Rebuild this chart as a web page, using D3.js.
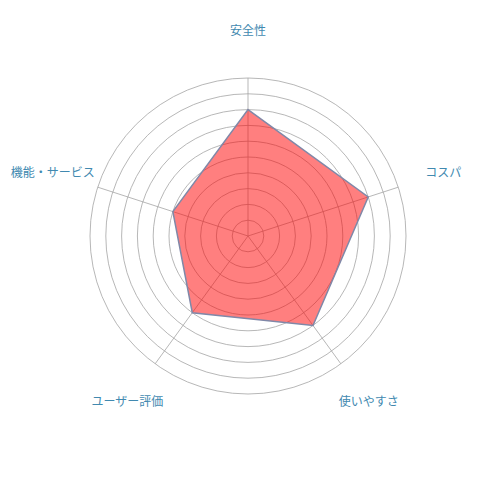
<!DOCTYPE html>
<html>
<head>
<meta charset="utf-8">
<script src="https://cdn.jsdelivr.net/npm/d3@7"></script>
<style>
  body { margin: 0; background: #fff; }
  svg text { font-family: "Noto Sans CJK JP", sans-serif; }
</style>
</head>
<body>
<div id="chart"></div>
<script>
// axes, clockwise from the top
var categories = ["安全性", "コスパ", "使いやすさ", "ユーザー評価", "機能・サービス"];
var scores = [8, 8, 7, 6, 5];
var rings = [1, 2, 3, 4, 5, 6, 7, 8, 9, 10];
var maxScore = 10;

var width = 500, height = 500;
var cx = 248, cy = 236, radius = 158;

var svg = d3.select("#chart").append("svg")
    .attr("width", width)
    .attr("height", height);

var g = svg.append("g").attr("transform", "translate(" + cx + "," + cy + ")");

var r = d3.scaleLinear().domain([0, maxScore]).range([0, radius]);
var angle = d3.scalePoint().domain(categories).range([0, 2 * Math.PI * (categories.length - 1) / categories.length]);

function pt(cat, v) {
    var a = angle(cat);
    return [Math.sin(a) * r(v), -Math.cos(a) * r(v)];
}

// rings
g.selectAll(".ring")
  .data(rings)
  .enter().append("circle")
    .attr("class", "ring")
    .attr("r", function(d) { return r(d); })
    .attr("fill", "none")
    .attr("stroke", "#a4a4a4")
    .attr("stroke-width", 0.8);

// spokes
g.selectAll(".spoke")
  .data(categories)
  .enter().append("line")
    .attr("class", "spoke")
    .attr("x1", 0).attr("y1", 0)
    .attr("x2", function(d) { return pt(d, maxScore)[0]; })
    .attr("y2", function(d) { return pt(d, maxScore)[1]; })
    .attr("stroke", "#a4a4a4")
    .attr("stroke-width", 0.8);

// data polygon
var line = d3.line().curve(d3.curveLinearClosed);
g.append("path")
    .datum(categories.map(function(c, i) { return pt(c, scores[i]); }))
    .attr("d", line)
    .attr("fill", "rgba(255,0,0,0.5)")
    .attr("stroke", "#8088a8")
    .attr("stroke-width", 1.5);

// labels sit a bit outside the outer ring
var labelScore = maxScore * 1.3;
g.selectAll(".label")
  .data(categories)
  .enter().append("text")
    .attr("class", "label")
    .attr("x", function(d) { return pt(d, labelScore)[0]; })
    .attr("y", function(d) { return pt(d, labelScore)[1]; })
    .attr("dy", "0.35em")
    .attr("text-anchor", "middle")
    .attr("font-size", 12)
    .attr("fill", "#4189b0")
    .text(function(d) { return d; });
</script>
</body>
</html>
